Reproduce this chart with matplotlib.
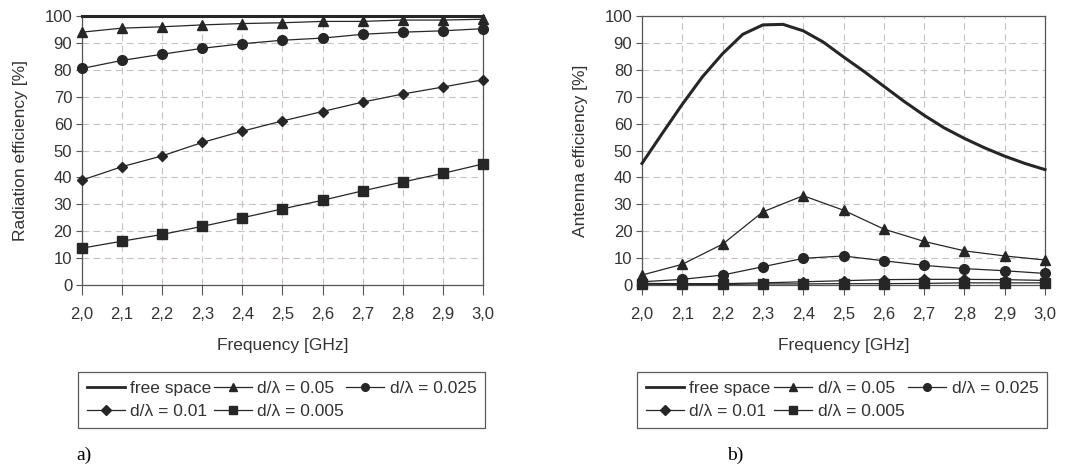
import matplotlib
matplotlib.use('Agg')
import matplotlib.pyplot as plt
from matplotlib.lines import Line2D

plt.rcParams['font.family'] = ['Liberation Sans', 'DejaVu Sans']

freq = [2.0, 2.1, 2.2, 2.3, 2.4, 2.5, 2.6, 2.7, 2.8, 2.9, 3.0]
tick_labels = ['2,0', '2,1', '2,2', '2,3', '2,4', '2,5', '2,6', '2,7', '2,8', '2,9', '3,0']

# a) radiation efficiency [%]
rad_free = [100, 100, 100, 100, 100, 100, 100, 100, 100, 100, 100]
rad_005 = [94, 95.5, 96, 96.7, 97.2, 97.5, 98, 98, 98.5, 98.5, 98.8]
rad_0025 = [80.5, 83.5, 85.8, 88, 89.7, 91, 91.8, 93.2, 94, 94.5, 95.3]
rad_001 = [39, 44, 48, 53, 57.2, 61, 64.5, 68, 71, 73.6, 76.3]
rad_0005 = [13.7, 16.3, 18.8, 21.8, 25, 28.3, 31.5, 35, 38.3, 41.5, 45]

# b) antenna efficiency [%], free space read at finer steps (smooth curve)
freq_fine = [2.0, 2.05, 2.1, 2.15, 2.2, 2.25, 2.3, 2.35, 2.4, 2.45, 2.5,
             2.55, 2.6, 2.65, 2.7, 2.75, 2.8, 2.85, 2.9, 2.95, 3.0]
ant_free = [45.2, 56.3, 67.2, 77.4, 86, 93.2, 96.7, 96.9, 94.5, 90.3, 84.8,
            79.5, 73.9, 68.3, 63.1, 58.4, 54.5, 51, 47.9, 45.2, 42.9]
ant_005 = [3.7, 7.7, 15.2, 27.2, 33.2, 27.8, 20.8, 16.2, 12.7, 10.8, 9.3]
ant_0025 = [1.2, 2.1, 3.7, 6.8, 9.9, 10.8, 9.0, 7.3, 6.1, 5.3, 4.3]
ant_001 = [0.6, 0.5, 0.5, 0.8, 1.2, 1.6, 2.0, 2.1, 2.1, 2.0, 1.7]
ant_0005 = [0.3, 0.2, 0.2, 0.4, 0.4, 0.5, 0.5, 0.6, 0.8, 0.8, 0.8]

LEGENDS = ['free space', 'd/\u03bb = 0.05', 'd/\u03bb = 0.025', 'd/\u03bb = 0.01', 'd/\u03bb = 0.005']
C = '#262626'
GRID = '#c9c1c1'
FS = 12.5


def style_axes(ax, ylabel):
    ax.set_xlim(2.0, 3.0)
    ax.set_ylim(0, 100)
    ax.set_xticks(freq)
    ax.set_xticklabels(tick_labels)
    ax.set_yticks(range(0, 101, 10))
    ax.tick_params(axis='x', length=7, width=0.8, color='#555555', labelsize=12, pad=9,
                   labelcolor='#333333')
    ax.tick_params(axis='y', length=4, width=0.8, color='#555555', labelsize=12, pad=3,
                   labelcolor='#333333')
    for s in ax.spines.values():
        s.set_color('#555555')
        s.set_linewidth(0.9)
    ax.grid(True, color=GRID, linestyle=(0, (6, 4)), linewidth=0.8)
    ax.set_axisbelow(True)
    ax.set_xlabel('Frequency [GHz]', fontsize=FS, labelpad=11, color='#333333')
    ax.set_ylabel(ylabel, fontsize=FS, labelpad=12, color='#333333')


fig = plt.figure(figsize=(10.77, 4.70), dpi=100)
ax1 = fig.add_axes([0.0761, 0.3936, 0.3723, 0.5723])
ax2 = fig.add_axes([0.5961, 0.3936, 0.3742, 0.5723])

kw = dict(color=C, linewidth=0.9, clip_on=False, zorder=3)
ax1.plot(freq, rad_free, '-', color=C, linewidth=2.2, clip_on=False, zorder=3)
ax1.plot(freq, rad_005, '-^', markersize=7.5, **kw)
ax1.plot(freq, rad_0025, '-o', markersize=7, **kw)
ax1.plot(freq, rad_001, '-D', markersize=5.5, **kw)
ax1.plot(freq, rad_0005, '-s', markersize=7, **kw)
style_axes(ax1, 'Radiation efficiency [%]')

ax2.plot(freq_fine, ant_free, '-', color=C, linewidth=2.2, clip_on=False, zorder=3)
ax2.plot(freq, ant_005, '-^', markersize=7.5, **kw)
ax2.plot(freq, ant_0025, '-o', markersize=7, **kw)
ax2.plot(freq, ant_001, '-D', markersize=5.5, **kw)
ax2.plot(freq, ant_0005, '-s', markersize=7, **kw)
style_axes(ax2, 'Antenna efficiency [%]')

handles = [
    Line2D([], [], color=C, linewidth=2),
    Line2D([], [], color=C, linewidth=0.9, marker='D', markersize=5),
    Line2D([], [], color=C, linewidth=0.9, marker='^', markersize=6),
    Line2D([], [], color=C, linewidth=0.9, marker='s', markersize=5.5),
    Line2D([], [], color=C, linewidth=0.9, marker='o', markersize=5.5),
]
labels = [LEGENDS[0], LEGENDS[3], LEGENDS[1], LEGENDS[4], LEGENDS[2]]

for x0, x1 in [(78, 485), (637, 1047)]:
    leg = fig.legend(handles, labels, ncol=3, loc='upper left',
                     bbox_to_anchor=(x0 / 1077, 1 - 430 / 470, (x1 - x0) / 1077, 58 / 470),
                     mode='expand', fontsize=FS, frameon=True, fancybox=False,
                     handlelength=2.2, handletextpad=0.3, columnspacing=0.8,
                     borderpad=0.5, labelspacing=0.47, borderaxespad=0)
    leg.get_frame().set_edgecolor('#333333')
    leg.get_frame().set_linewidth(0.9)
    for t in leg.get_texts():
        t.set_color('#333333')

fig.text(76 / 1077, 1 - 455 / 470, 'a)', fontsize=14, family='Liberation Serif', va='center')
fig.text(727 / 1077, 1 - 455 / 470, 'b)', fontsize=14, family='Liberation Serif', va='center')

fig.savefig('out.png', dpi=100)
plt.close(fig)
